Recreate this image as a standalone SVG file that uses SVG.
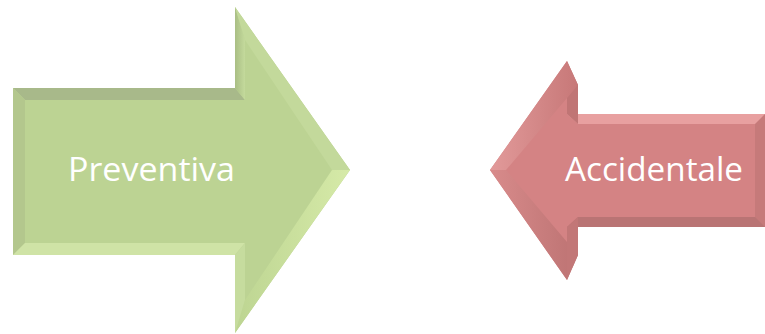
<svg xmlns="http://www.w3.org/2000/svg" width="765" height="334" viewBox="0 0 765 334">
<style>
.lbl{font-family:"Open Sans","Liberation Sans",sans-serif;font-size:32px;fill:#ffffff}
.gfill{fill:#bcd393}
.rfill{fill:#d48384}
</style>
<defs>
<linearGradient id="gHead1" x1="0" y1="0" x2="1" y2="0"><stop offset="0" stop-color="#a9be84"/><stop offset="1" stop-color="#c4da9c"/></linearGradient>
<linearGradient id="gHead2" x1="0" y1="0" x2="1" y2="0"><stop offset="0" stop-color="#bdd592"/><stop offset="1" stop-color="#d6eaa8"/></linearGradient>
<linearGradient id="rHead1" x1="0" y1="0" x2="1" y2="0"><stop offset="0" stop-color="#e29a9a"/><stop offset="1" stop-color="#c77878"/></linearGradient>
<linearGradient id="rHead2" x1="0" y1="0" x2="1" y2="0"><stop offset="0" stop-color="#d88b8b"/><stop offset="1" stop-color="#bd7373"/></linearGradient>
</defs>
<rect width="765" height="334" fill="#ffffff"/>
<g id="preventiva">
<polygon class="gfill" points="13,88 235,88 235,7 350,170 235,333 235,255 13,255"/>
<polygon fill="#a8b98a" points="13,88 235,88 245,100 25,100"/>
<polygon fill="#b3c78d" points="13,88 25,100 25,243 13,255"/>
<polygon fill="#cfe3a6" points="13,255 25,243 245,243 235,255"/>
<polygon fill="url(#gHead1)" points="235,7 245,40 245,100 235,88"/>
<polygon fill="#c3d99b" points="235,7 350,170 332,170 245,40"/>
<polygon fill="url(#gHead2)" points="350,170 235,333 245,300 332,170"/>
<polygon fill="#c6dc9e" points="235,333 235,255 245,243 245,300"/>
<text class="lbl" x="68" y="181" textLength="167" lengthAdjust="spacingAndGlyphs">Preventiva</text>
</g>
<g id="accidentale">
<polygon class="rfill" points="765,114 567,114 567,61 490,170 567,280 567,227 765,227"/>
<polygon fill="#e8a0a0" points="765,114 567,114 578,124 765,124"/>
<polygon fill="#b97474" points="765,227 567,227 578,217 765,217"/>
<polygon fill="#c07575" points="567,61 567,114 578,124 578,85"/>
<polygon fill="url(#rHead1)" points="567,61 490,170 506,170 578,85"/>
<polygon fill="url(#rHead2)" points="490,170 567,280 578,255 506,170"/>
<polygon fill="#c27777" points="567,280 567,227 578,217 578,255"/>
<polygon fill="#c67a7a" points="755,124 765,114 765,227 755,217"/>
<text class="lbl" x="565" y="181" textLength="178" lengthAdjust="spacingAndGlyphs">Accidentale</text>
</g>
<g id="connectors"/>
</svg>
